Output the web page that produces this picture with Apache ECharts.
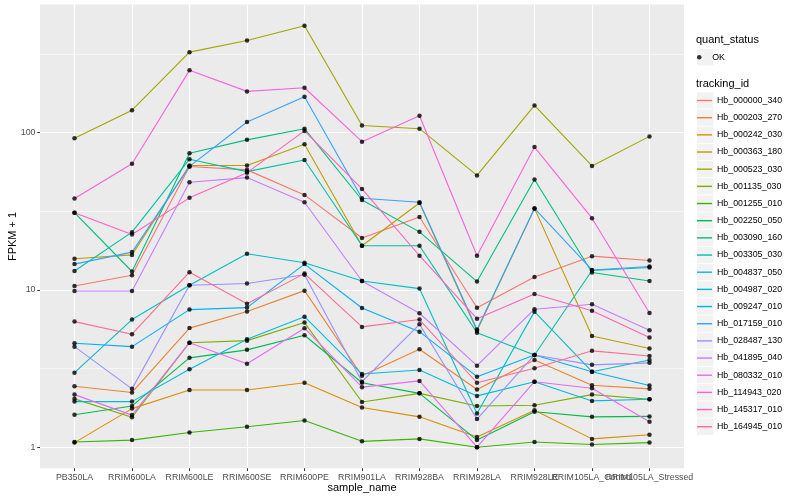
<!DOCTYPE html>
<html><head><meta charset="utf-8">
<script src="https://cdn.jsdelivr.net/npm/echarts@6/dist/echarts.min.js"></script>
<style>html,body{margin:0;padding:0;background:#fff}#c{width:800px;height:500px}</style>
</head><body><div id="c"></div>
<script>
const categories = ['PB350LA','RRIM600LA','RRIM600LE','RRIM600SE','RRIM600PE','RRIM901LA','RRIM928BA','RRIM928LA','RRIM928LE','RRIM105LA_Control','RRIM105LA_Stressed'];
const yTicks = [1, 10, 100];
const yMinorBreaks = [3.1623, 31.623, 316.23];

const Hb_000000_340 = [10.6, 12.4, 61, 58, 40.2, 21.4, 29.1, 7.7, 12.1, 16.4, 15.4];
const Hb_000203_270 = [2.44, 2.23, 5.72, 7.3, 9.9, 2.85, 4.2, 2.33, 3.58, 2.48, 2.35];
const Hb_000242_030 = [1.07, 1.76, 2.31, 2.31, 2.57, 1.79, 1.56, 1.16, 1.72, 1.13, 1.2];
const Hb_000363_180 = [15.8, 16.7, 61.9, 61.9, 84.5, 19.1, 35.7, 5.5, 33, 5.1, 4.24];
const Hb_000523_030 = [92, 139, 325, 385, 479, 111, 106, 53.5, 149, 61.4, 94.7];
const Hb_001135_030 = [2.03, 1.55, 4.62, 4.76, 6.2, 1.94, 2.2, 1.83, 1.85, 2.16, 2.02];
const Hb_001255_010 = [1.08, 1.11, 1.24, 1.35, 1.48, 1.09, 1.13, 1.0, 1.08, 1.04, 1.07];
const Hb_002250_050 = [1.61, 1.83, 3.7, 4.16, 5.15, 2.57, 2.2, 1.11, 1.68, 1.56, 1.57];
const Hb_003090_160 = [31, 13.1, 74, 90, 106, 37.3, 23.4, 11.3, 50.4, 12.9, 11.4];
const Hb_003305_030 = [13.2, 23.3, 67.8, 56.5, 67, 19.1, 19.1, 5.35, 3.86, 13.3, 13.9];
const Hb_004837_050 = [2.98, 6.48, 10.7, 17.0, 14.9, 11.4, 10.2, 1.64, 7.28, 3.02, 3.59];
const Hb_004987_020 = [1.95, 1.95, 3.13, 4.86, 6.76, 2.92, 3.1, 2.12, 2.61, 1.97, 2.02];
const Hb_009247_010 = [4.58, 4.36, 7.5, 7.72, 14.6, 7.68, 5.43, 2.81, 3.86, 3.02, 2.47];
const Hb_017159_010 = [14.6, 17.4, 61, 117, 169, 38.3, 36.1, 5.6, 33, 13.4, 14.1];
const Hb_028487_130 = [4.36, 2.35, 10.7, 11.0, 12.5, 2.61, 6.05, 1.51, 3.86, 3.34, 3.44];
const Hb_041895_040 = [9.85, 9.85, 48.4, 51.8, 36.1, 11.4, 7.11, 3.3, 7.54, 8.11, 5.54];
const Hb_080332_010 = [2.16, 1.6, 4.62, 3.39, 5.71, 2.41, 2.64, 1.0, 2.61, 2.37, 1.45];
const Hb_114943_020 = [38.1, 63.5, 249, 183, 193, 87.7, 128, 16.5, 81, 28.6, 7.14];
const Hb_145317_010 = [31, 22.5, 38.5, 55.7, 102.6, 43.9, 16.5, 6.57, 9.43, 7.38, 4.98];
const Hb_164945_010 = [6.29, 5.23, 12.97, 8.18, 12.7, 5.82, 6.48, 2.57, 3.18, 4.1, 3.8];

const trackingIds = ['Hb_000000_340','Hb_000203_270','Hb_000242_030','Hb_000363_180','Hb_000523_030','Hb_001135_030','Hb_001255_010','Hb_002250_050','Hb_003090_160','Hb_003305_030','Hb_004837_050','Hb_004987_020','Hb_009247_010','Hb_017159_010','Hb_028487_130','Hb_041895_040','Hb_080332_010','Hb_114943_020','Hb_145317_010','Hb_164945_010'];
const trackingValues = [Hb_000000_340,Hb_000203_270,Hb_000242_030,Hb_000363_180,Hb_000523_030,Hb_001135_030,Hb_001255_010,Hb_002250_050,Hb_003090_160,Hb_003305_030,Hb_004837_050,Hb_004987_020,Hb_009247_010,Hb_017159_010,Hb_028487_130,Hb_041895_040,Hb_080332_010,Hb_114943_020,Hb_145317_010,Hb_164945_010];
const palette = ['#F8766D','#EA8331','#D89000','#C09B00','#A3A500','#7CAE00','#39B600','#00BB4E','#00BF7D','#00C1A3','#00BFC4','#00BAE0','#00B0F6','#35A2FF','#9590FF','#C77CFF','#E76BF3','#FA62DB','#FF62BC','#FF6C91'];

const FONT = 'Liberation Sans, Arial, sans-serif';
const idx = categories.map((_, i) => i);
const X_MIN = -0.6, X_MAX = 10.6;
const Y_MIN = 0.7345, Y_MAX = 652;
// an empty label at the axis end keeps ECharts from hiding the overlapping last two category labels
const labelValues = idx.concat([X_MAX]);
// helper log axis shifted by half a decade: its decade lines fall on the minor breaks of the main axis
const minorShift = yMinorBreaks[0] / yTicks[0];

const lineSeries = trackingIds.map((id, k) => ({
  type: 'line', name: id,
  data: trackingValues[k].map((v, i) => [i, v]),
  showSymbol: false, symbol: 'none', silent: true, z: 2,
  lineStyle: {width: 1.1, color: palette[k]},
  itemStyle: {color: palette[k]}
}));
const points = [];
trackingValues.forEach(arr => arr.forEach((v, i) => points.push([i, v])));

const boxes = [{type: 'rect', shape: {x: 697, y: 49, width: 16.4, height: 16.4}, style: {fill: '#F2F2F2'}, z: 0}];
trackingIds.forEach((_, i) => boxes.push({type: 'rect', shape: {x: 697, y: 92.3 + i * 17.17, width: 16.4, height: 16.3}, style: {fill: '#F2F2F2'}, z: 0}));

const chart = echarts.init(document.getElementById('c'));
chart.setOption({
  animation: false,
  backgroundColor: '#fff',
  textStyle: {fontFamily: FONT},
  grid: {left: 40, right: 116, top: 4.6, bottom: 31.7, show: true, backgroundColor: '#EBEBEB', borderWidth: 0,
         containLabel: false, outerBoundsMode: 'none'},
  title: [
    {text: 'quant_status', left: 696, top: 34.5, padding: 0, textStyle: {fontSize: 11, fontWeight: 'normal', color: '#000', fontFamily: FONT}},
    {text: 'tracking_id', left: 696, top: 78, padding: 0, textStyle: {fontSize: 11, fontWeight: 'normal', color: '#000', fontFamily: FONT}}
  ],
  graphic: boxes,
  legend: [
    {data: ['OK'], left: 697, top: 49, orient: 'vertical', padding: 0, itemWidth: 16, itemHeight: 4.5, icon: 'circle',
     textStyle: {fontSize: 8.8, lineHeight: 16.4, color: '#000', fontFamily: FONT}},
    {data: trackingIds, left: 697, top: 92, orient: 'vertical', padding: 0, itemWidth: 15, itemHeight: 1.4, icon: 'rect', itemGap: 0.17,
     itemStyle: {borderWidth: 0},
     textStyle: {fontSize: 8.8, lineHeight: 17, color: '#000', fontFamily: FONT}}
  ],
  xAxis: {
    type: 'value', min: X_MIN, max: X_MAX,
    axisLine: {show: false, onZero: false},
    axisTick: {show: true, length: 2.75, lineStyle: {color: '#333', width: 1}, customValues: idx},
    axisLabel: {customValues: labelValues, formatter: v => (Number.isInteger(v) ? categories[v] : ''),
                color: '#4D4D4D', fontSize: 8.8, margin: 4.5,
                fontFamily: FONT, hideOverlap: false, showMinLabel: true, showMaxLabel: true},
    splitLine: {show: true, lineStyle: {color: '#fff', width: 1.1}},
    name: 'sample_name', nameLocation: 'middle', nameGap: 14, nameMoveOverlap: false,
    nameTextStyle: {fontSize: 11, color: '#000', fontFamily: FONT}
  },
  yAxis: [
    {
      type: 'log', logBase: 10, min: Y_MIN, max: Y_MAX,
      axisLine: {show: false, onZero: false},
      axisTick: {show: true, length: 2.75, lineStyle: {color: '#333', width: 1}, customValues: yTicks},
      axisLabel: {customValues: yTicks, formatter: v => String(v), color: '#4D4D4D', fontSize: 8.8, margin: 4.5, fontFamily: FONT},
      splitLine: {show: true, lineStyle: {color: '#fff', width: 1.1}},
      name: 'FPKM + 1', nameLocation: 'middle', nameGap: 22, nameRotate: 90, nameMoveOverlap: false,
      nameTextStyle: {fontSize: 11, color: '#000', fontFamily: FONT}
    },
    {
      type: 'log', logBase: 10, min: Y_MIN / minorShift, max: Y_MAX / minorShift, position: 'left',
      axisLine: {show: false, onZero: false},
      axisTick: {show: false, customValues: yTicks},
      axisLabel: {show: false, customValues: yTicks},
      splitLine: {show: true, lineStyle: {color: '#fff', width: 0.55}}
    }
  ],
  series: [
    ...lineSeries,
    {type: 'scatter', name: 'OK', data: points, symbol: 'circle', symbolSize: 4.5, silent: true, z: 3,
     itemStyle: {color: '#000'}}
  ]
});
</script></body></html>
